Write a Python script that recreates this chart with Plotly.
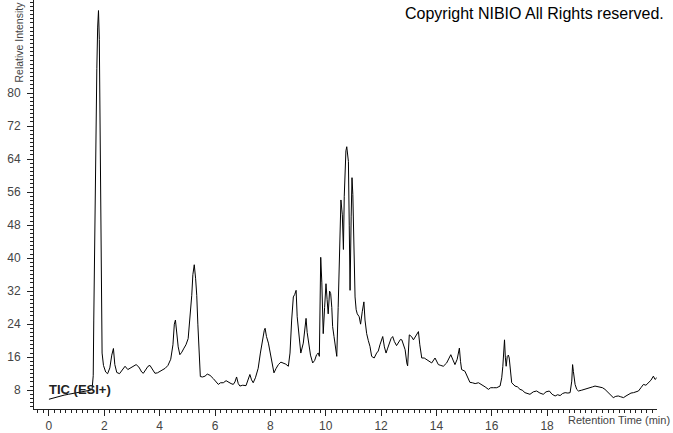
import plotly.graph_objects as go

# Retention time (min) and relative intensity
time_min = [
    0.00, 0.10, 0.25, 0.40, 0.55, 0.70, 0.85, 1.00, 1.15, 1.30, 1.40, 1.50, 1.56,
    1.60, 1.62, 1.65, 1.69, 1.73, 1.76, 1.79, 1.82, 1.85, 1.87, 1.89, 1.92, 1.97,
    2.05, 2.12, 2.20, 2.27, 2.33, 2.38, 2.45, 2.55, 2.65, 2.75, 2.85, 2.95, 3.05,
    3.15, 3.25, 3.35, 3.41, 3.50, 3.58, 3.65, 3.75, 3.83, 3.92, 4.01, 4.10, 4.20,
    4.30, 4.40, 4.48, 4.53, 4.57, 4.62, 4.67, 4.73, 4.80, 4.88, 4.95, 5.03, 5.10,
    5.16, 5.20, 5.25, 5.30, 5.34, 5.38, 5.43, 5.47, 5.55, 5.64, 5.72, 5.82, 5.94,
    6.03, 6.12, 6.20, 6.30, 6.40, 6.48, 6.58, 6.66, 6.72, 6.78, 6.84, 6.90, 7.00,
    7.12, 7.20, 7.26, 7.32, 7.38, 7.46, 7.56, 7.64, 7.72, 7.78, 7.81, 7.86, 7.93,
    8.00, 8.05, 8.13, 8.21, 8.29, 8.38, 8.47, 8.56, 8.65, 8.71, 8.77, 8.83, 8.88,
    8.93, 8.97, 9.03, 9.10, 9.19, 9.24, 9.29, 9.33, 9.37, 9.45, 9.53, 9.60, 9.67,
    9.73, 9.77, 9.82, 9.86, 9.91, 9.96, 10.01, 10.05, 10.09, 10.14, 10.18, 10.22,
    10.25, 10.30, 10.35, 10.40, 10.45, 10.50, 10.55, 10.60, 10.64, 10.67, 10.70,
    10.73, 10.76, 10.79, 10.82, 10.85, 10.88, 10.92, 10.95, 10.98, 11.02, 11.06,
    11.10, 11.14, 11.21, 11.26, 11.32, 11.38, 11.42, 11.48, 11.54, 11.60, 11.66,
    11.75, 11.84, 11.90, 11.96, 12.02, 12.06, 12.12, 12.18, 12.24, 12.30, 12.36,
    12.42, 12.48, 12.56, 12.64, 12.70, 12.75, 12.82, 12.87, 12.93, 12.96, 13.02,
    13.10, 13.17, 13.23, 13.30, 13.35, 13.40, 13.47, 13.56, 13.65, 13.74, 13.83,
    13.95, 14.07, 14.16, 14.25, 14.37, 14.45, 14.52, 14.60, 14.67, 14.75, 14.83,
    14.87, 14.91, 15.03, 15.12, 15.21, 15.30, 15.40, 15.52, 15.64, 15.76, 15.88,
    15.96, 16.06, 16.18, 16.30, 16.36, 16.40, 16.46, 16.49, 16.52, 16.56, 16.60,
    16.63, 16.68, 16.72, 16.84, 16.93, 17.02, 17.10, 17.20, 17.30, 17.38, 17.50,
    17.62, 17.74, 17.86, 17.96, 18.08, 18.18, 18.29, 18.38, 18.47, 18.56, 18.65,
    18.75, 18.83, 18.89, 18.92, 18.95, 19.01, 19.07, 19.13, 19.25, 19.37, 19.46,
    19.55, 19.64, 19.73, 19.82, 19.91, 20.00, 20.09, 20.17, 20.25, 20.32, 20.39,
    20.48, 20.57, 20.66, 20.76, 20.85, 20.94, 21.03, 21.12, 21.21, 21.30, 21.39,
    21.48, 21.57, 21.66, 21.75, 21.84, 21.90, 21.96,
]

rel_intensity = [
    5.8, 6.0, 6.3, 6.5, 6.8, 7.0, 7.2, 7.3, 7.6, 7.7, 7.9, 8.0, 8.3,
    11.5, 25, 45, 70, 86, 96, 100, 93, 70, 45, 26, 17, 14,
    12.4, 12.0, 13.4, 16.5, 18.1, 14.2, 12.3, 12.0, 12.8, 13.8, 13.0, 13.4, 13.8,
    14.2, 13.6, 12.4, 12.1, 12.9, 13.8, 14.0, 12.8, 12.1, 12.2, 12.6, 12.8, 13.3,
    14.0, 15.5, 19, 24, 25, 21, 18.5, 16.6, 17.2, 18.2, 19.0, 20.5, 25.4,
    31, 36, 38.4, 35, 31, 24, 17, 11.3, 11.2, 11.4, 11.9, 11.6, 10.8,
    10.2, 9.4, 9.8, 9.8, 10.3, 9.9, 9.6, 9.4, 10.0, 11.2, 9.6, 9.0, 9.2,
    9.1, 10.4, 11.8, 10.5, 9.8, 11.0, 13.3, 17, 20.5, 22.5, 23, 21, 19.4,
    17.0, 15.4, 12.2, 13.3, 14.2, 14.8, 14.6, 14.3, 13.8, 17, 25, 30.6, 31.2,
    32.2, 25.8, 21, 17.0, 19.4, 22.5, 25.4, 22, 20.2, 16.5, 14.6, 15.2, 16.6,
    17.0, 16.2, 40.2, 34, 21.7, 28, 33.8, 30, 26.5, 32, 31.4, 28,
    23.4, 21, 18, 16.2, 28, 42, 54.1, 50.5, 42.1, 55, 63.4,
    66, 67, 65.5, 63.4, 48, 32.2, 50, 59.5, 55.4, 42, 30.6,
    27.5, 26.5, 25.8, 24, 27, 29.4, 25, 21.7, 20, 18.6, 16.2,
    15.8, 17, 17.5, 19, 20.6, 21, 18.5, 17, 18.2, 19.4, 20.5,
    21, 19.8, 18.8, 19.5, 20.3, 20.2, 19, 17.8, 14.6, 13.9, 21.4,
    21.0, 20.2, 21, 21.8, 22.2, 19, 15.8, 15.8, 15.4, 15.0, 14.6,
    15.8, 14.2, 14.0, 13.8, 14.6, 15.5, 16.6, 15.3, 14.2, 15.5, 18.2,
    15, 13.0, 12.6, 11.0, 9.9, 9.8, 9.6, 9.8, 9.4, 8.8, 8.2,
    8.6, 8.6, 8.6, 9.0, 11, 13.8, 20.2, 16, 13.8, 16.2, 16.5,
    15.8, 12.5, 9.8, 9.0, 8.8, 8.2, 8.0, 7.4, 7.2, 7.0, 7.6,
    7.8, 7.3, 7.0, 7.6, 7.8, 7.0, 6.6, 6.9, 6.7, 7.2, 7.4,
    7.3, 7.4, 10.2, 14.2, 12.5, 9.4, 8.2, 7.8, 8.0, 8.2, 8.5,
    8.6, 8.8, 9.0, 8.9, 8.8, 8.6, 8.2, 7.6, 7.0, 6.6, 6.2,
    6.5, 6.6, 6.4, 6.2, 6.6, 7.0, 7.3, 7.4, 7.6, 7.8, 8.6,
    9.4, 9.2, 9.8, 10.4, 11.4, 10.6, 11.0,
]

x_tick_vals = [0, 2, 4, 6, 8, 10, 12, 14, 16, 18]
y_tick_vals = [8, 16, 24, 32, 40, 48, 56, 64, 72, 80]

FONT = "Liberation Sans, Arial, sans-serif"

fig = go.Figure()
fig.add_trace(go.Scatter(
    x=time_min, y=rel_intensity, mode="lines",
    line=dict(color="black", width=1), hoverinfo="skip", showlegend=False,
))

fig.update_layout(
    width=673, height=433,
    margin=dict(l=34, r=16, t=0, b=20),
    paper_bgcolor="white", plot_bgcolor="white",
    font=dict(family=FONT, size=11, color="#444"),
    xaxis=dict(
        range=[-0.54, 21.97], showgrid=False, zeroline=False,
        showline=True, linecolor="#222", linewidth=1,
        ticks="outside", ticklen=6, tickcolor="#222",
        tickvals=x_tick_vals, ticktext=[str(v) for v in x_tick_vals],
        tickfont=dict(family=FONT, size=12, color="#444"),
        minor=dict(dtick=0.2, tick0=0, ticks="outside", ticklen=3, tickcolor="#222"),
    ),
    yaxis=dict(
        range=[3.44, 102.56], showgrid=False, zeroline=False,
        showline=True, linecolor="#222", linewidth=1,
        ticks="outside", ticklen=6, tickcolor="#222",
        tickvals=y_tick_vals, ticktext=[str(v) for v in y_tick_vals],
        tickfont=dict(family=FONT, size=12, color="#444"),
        ticklabelstandoff=4,
        minor=dict(dtick=1, tick0=0, ticks="outside", ticklen=3, tickcolor="#222"),
    ),
    annotations=[
        dict(text="Copyright NIBIO All Rights reserved.", xref="paper", yref="paper",
             x=1.0145, y=1 - 14 / 413, xanchor="right", yanchor="middle",
             showarrow=False, font=dict(family=FONT, size=16, color="black")),
        dict(text="<b>TIC (ESI+)</b>", xref="paper", yref="paper",
             x=(47 - 34) / 623, y=1 - 393 / 413, xanchor="left", yanchor="middle",
             showarrow=False, font=dict(family=FONT, size=13, color="#222")),
        dict(text="Relative Intensity", xref="paper", yref="paper", textangle=-90,
             x=(18 - 34) / 623, y=1.0, xanchor="center", yanchor="top",
             showarrow=False, font=dict(family=FONT, size=10.5, color="#444")),
        dict(text="Retention Time (min)", xref="paper", yref="paper",
             x=(672 - 34) / 623, y=1 - 424 / 413, xanchor="right", yanchor="middle",
             showarrow=False, font=dict(family=FONT, size=11, color="#444")),
    ],
)

fig.write_html(
    "out.html",
    config={"displayModeBar": False},
    post_script="document.body.style.margin='0';document.body.style.padding='0';"
                "document.body.style.overflow='hidden';",
)
